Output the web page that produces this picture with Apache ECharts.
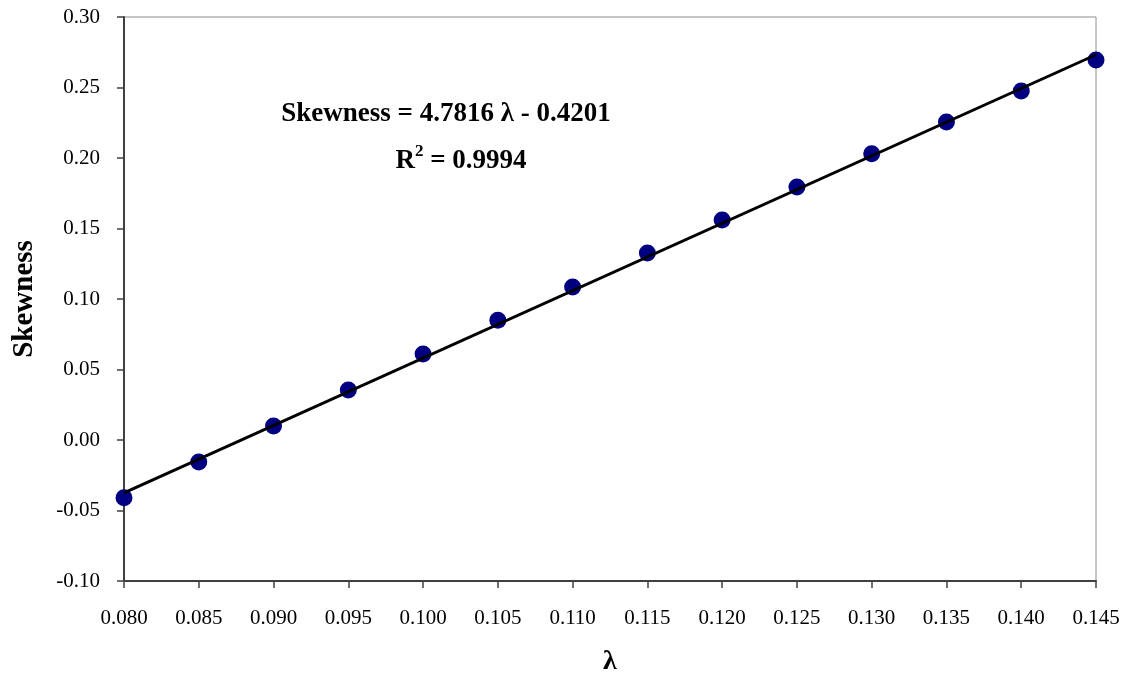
<!DOCTYPE html>
<html>
<head>
<meta charset="utf-8">
<script src="https://cdn.jsdelivr.net/npm/echarts@6/dist/echarts.min.js"></script>
<style>
html, body { margin: 0; padding: 0; background: #fff; }
#chart { width: 1125px; height: 673px; }
</style>
</head>
<body>
<div id="chart"></div>
<script>
// Lambda values and measured skewness
const lambdaValues = [0.080, 0.085, 0.090, 0.095, 0.100, 0.105, 0.110, 0.115, 0.120, 0.125, 0.130, 0.135, 0.140, 0.145];
const skewnessValues = [-0.041, -0.0156, 0.0099, 0.0355, 0.061, 0.085, 0.1085, 0.1326, 0.156, 0.1794, 0.203, 0.2255, 0.2475, 0.2695];

// Linear fit: Skewness = slope * lambda + intercept
const fitSlope = 4.7816;
const fitIntercept = -0.4201;
const fitR2 = 0.9994;
const fitRange = [0.080, 0.145];

const FONT = '"Liberation Serif", "Times New Roman", serif';

const points = lambdaValues.map((x, i) => [x, skewnessValues[i]]);
const fitLine = fitRange.map(x => [x, fitSlope * x + fitIntercept]);

const chart = echarts.init(document.getElementById('chart'));
chart.setOption({
  animation: false,
  backgroundColor: '#ffffff',
  grid: {
    left: 124, top: 17, right: 29, bottom: 92,
    outerBoundsMode: 'none',
    containLabel: false,
    show: true, borderColor: '#8c8c8c', borderWidth: 1
  },
  xAxis: {
    type: 'value',
    min: 0.080, max: 0.145, interval: 0.005,
    name: 'λ',
    nameLocation: 'middle',
    nameGap: 67,
    nameMoveOverlap: false,
    nameTextStyle: { fontFamily: FONT, fontSize: 28, fontWeight: 'bold', color: '#000' },
    axisLine: { show: true, onZero: false, lineStyle: { color: '#404040', width: 2 } },
    axisTick: { show: true, inside: false, length: 7, lineStyle: { color: '#404040', width: 1.5 } },
    axisLabel: { fontFamily: FONT, fontSize: 21, color: '#000', margin: 27, formatter: v => v.toFixed(3) },
    splitLine: { show: false }
  },
  yAxis: {
    type: 'value',
    min: -0.10, max: 0.30, interval: 0.05,
    name: 'Skewness',
    nameLocation: 'middle',
    nameGap: 85,
    nameRotate: 90,
    nameMoveOverlap: false,
    nameTextStyle: { fontFamily: FONT, fontSize: 29, fontWeight: 'bold', color: '#000' },
    axisLine: { show: true, lineStyle: { color: '#404040', width: 2 } },
    axisTick: { show: true, inside: false, length: 7, lineStyle: { color: '#404040', width: 1.5 } },
    axisLabel: { fontFamily: FONT, fontSize: 21, color: '#000', margin: 24, formatter: v => v.toFixed(2) },
    splitLine: { show: false }
  },
  series: [
    {
      type: 'line',
      data: fitLine,
      showSymbol: false,
      lineStyle: { color: '#000', width: 3 },
      z: 3
    },
    {
      type: 'scatter',
      data: points,
      symbol: 'circle',
      symbolSize: 17,
      itemStyle: { color: '#000080', opacity: 1 },
      z: 2
    }
  ],
  graphic: [
    {
      type: 'text',
      x: 446, y: 114,
      style: {
        text: 'Skewness = ' + fitSlope + ' λ - ' + Math.abs(fitIntercept).toFixed(4),
        font: 'bold 27px ' + FONT,
        fill: '#000',
        align: 'center',
        verticalAlign: 'middle'
      }
    },
    {
      type: 'text',
      x: 461, y: 159,
      style: {
        text: '{b|R}{s|2}{b| = ' + fitR2.toFixed(4) + '}',
        align: 'center',
        verticalAlign: 'middle',
        rich: {
          b: { font: 'bold 27px ' + FONT, fill: '#000', verticalAlign: 'bottom' },
          s: { font: 'bold 17px ' + FONT, fill: '#000', verticalAlign: 'top', padding: [0, 0, 14, 0] }
        }
      }
    }
  ]
});
</script>
</body>
</html>
